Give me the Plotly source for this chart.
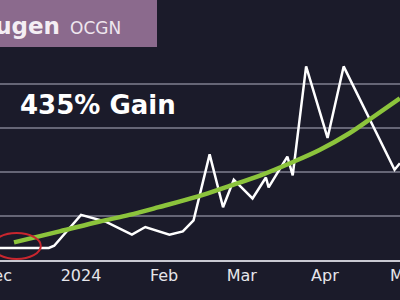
import plotly.graph_objects as go

# ---- data ----
price_dates = ["2023-12-01", "2023-12-20", "2023-12-22", "2024-01-01", "2024-01-10",
               "2024-01-20", "2024-01-25", "2024-02-03", "2024-02-08", "2024-02-12",
               "2024-02-18", "2024-02-23", "2024-02-27", "2024-03-05", "2024-03-10",
               "2024-03-11", "2024-03-18", "2024-03-20", "2024-03-25", "2024-04-02",
               "2024-04-08", "2024-04-27", "2024-04-29"]
price_values = [0.31, 0.31, 0.33, 0.61, 0.55,
                0.43, 0.50, 0.43, 0.46, 0.56,
                1.16, 0.68, 0.93, 0.76, 0.95,
                0.86, 1.14, 0.97, 1.96, 1.31,
                1.96, 1.02, 1.08]

trend_dates = ["2023-12-07", "2023-12-24", "2024-01-08", "2024-01-19", "2024-01-30",
               "2024-02-14", "2024-02-25", "2024-03-08", "2024-03-19", "2024-03-30",
               "2024-04-10", "2024-04-19", "2024-04-29"]
trend_values = [0.36, 0.46, 0.55, 0.61, 0.68,
                0.78, 0.87, 0.97, 1.08, 1.20,
                1.35, 1.50, 1.67]

tick_dates = ["2024-01-01", "2024-02-01", "2024-03-01", "2024-04-01"]
tick_labels = ["2024", "Feb", "Mar", "Apr"]
edge_labels = ["Dec", "May"]

grid_values = [0.6, 1.0, 1.4, 1.8]
x_range = ["2023-12-01 18:40", "2024-04-29 00:45"]
y_range = [0.2, 2.5636]

# highlight circle around the starting point
circle_x = ["2023-11-29", "2023-12-17"]
circle_y = [0.21, 0.445]

title_main = "Ocugen"
title_ticker = "OCGN"
gain_text = "435% Gain"

BG = "#1b1b2a"
FONT = "DejaVu Sans"

fig = go.Figure()
fig.add_trace(go.Scatter(x=price_dates, y=price_values, mode="lines",
                         line=dict(color="#ffffff", width=2.5), hoverinfo="skip"))
fig.add_trace(go.Scatter(x=trend_dates, y=trend_values, mode="lines",
                         line=dict(color="#8cc43c", width=4.5, shape="spline"),
                         hoverinfo="skip"))

fig.add_shape(type="circle", xref="x", yref="y",
              x0=circle_x[0], x1=circle_x[1], y0=circle_y[0], y1=circle_y[1],
              line=dict(color="#c8262e", width=2))

# title box
fig.add_shape(type="rect", xref="paper", yref="paper", x0=-0.01, x1=0.3925,
              y0=0.819, y1=1.01, fillcolor="#8b6a8d", line=dict(width=0), layer="above")
fig.add_annotation(text="<b>" + title_main + "</b>", xref="paper", yref="paper",
                   x=0.156, y=0.9, xanchor="right", yanchor="middle", showarrow=False,
                   font=dict(family=FONT, size=23, color="#f4eef4"))
fig.add_annotation(text=title_ticker, xref="paper", yref="paper",
                   x=0.17, y=0.893, xanchor="left", yanchor="middle", showarrow=False,
                   font=dict(family=FONT, size=17, color="#eee6ee"))
fig.add_annotation(text="<b>" + gain_text + "</b>", xref="paper", yref="paper",
                   x=0.045, y=0.596, xanchor="left", yanchor="middle", showarrow=False,
                   font=dict(family=FONT, size=26, color="#ffffff"))

# edge tick labels (partly cut off at the canvas edges)
fig.add_annotation(text=edge_labels[0], xref="paper", yref="paper", x=0.034, y=-0.058,
                   xanchor="right", yanchor="middle", showarrow=False,
                   font=dict(family=FONT, size=16, color="#e6e6ea"))
fig.add_annotation(text=edge_labels[1], xref="paper", yref="paper", x=0.97, y=-0.058,
                   xanchor="left", yanchor="middle", showarrow=False,
                   font=dict(family=FONT, size=16, color="#e6e6ea"))

fig.update_layout(
    width=400, height=300,
    margin=dict(l=0, r=0, t=0, b=40),
    paper_bgcolor=BG, plot_bgcolor=BG,
    showlegend=False,
    xaxis=dict(type="date", range=x_range, tickvals=tick_dates, ticktext=tick_labels,
               showgrid=False, zeroline=False, showline=True, linecolor="#c9c9d2",
               linewidth=2, ticks="", ticklabelstandoff=0,
               tickfont=dict(family=FONT, size=16, color="#e6e6ea")),
    yaxis=dict(range=y_range, tickvals=grid_values, showticklabels=False,
               showgrid=True, gridcolor="#666676", gridwidth=1.5, zeroline=False,
               showline=False),
)

fig.write_html("out.html")
